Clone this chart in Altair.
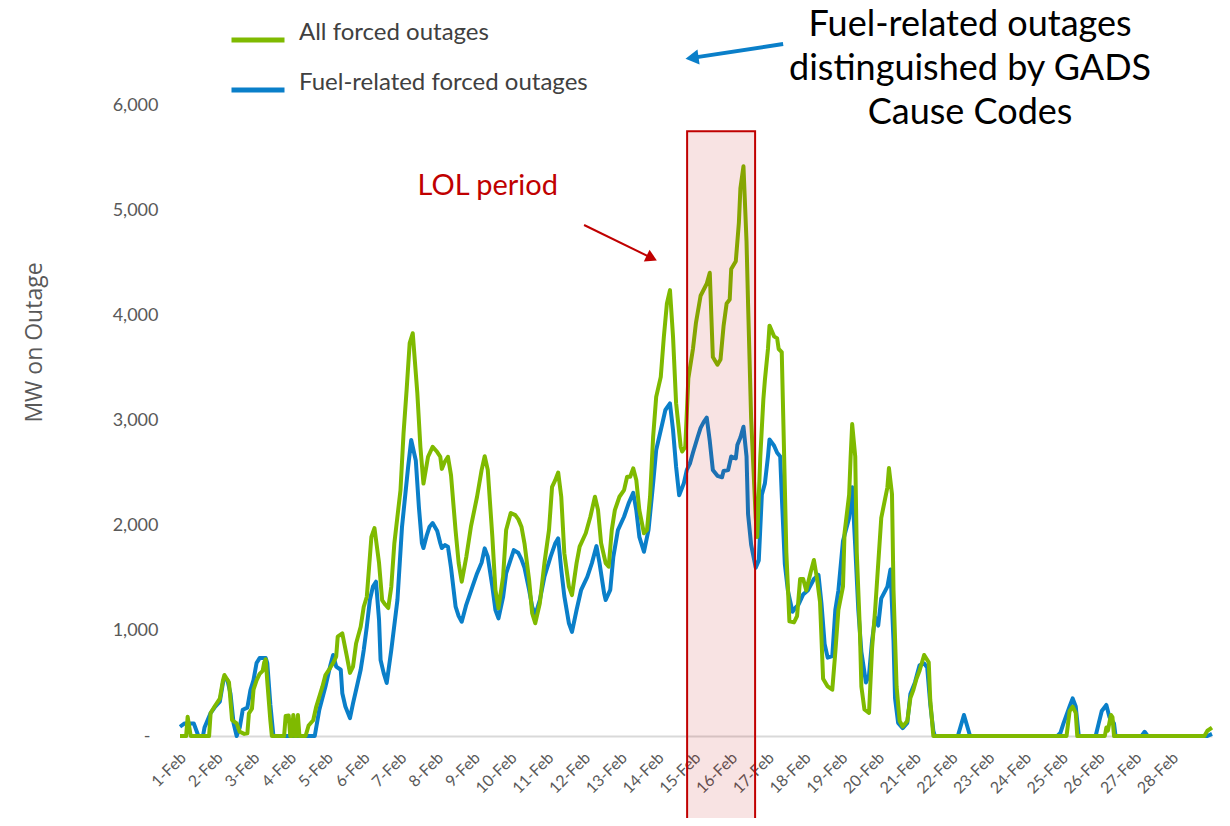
import json
import altair as alt
import pandas as pd

# ---------------- data (hours from 1-Feb 00:00, MW on outage) ----------------
all_hours = [0, 4, 5, 7, 19, 20, 23, 26, 28, 29, 32, 34, 37, 39, 42, 44, 45, 47, 48, 50,
             52, 54, 55, 56, 57, 59, 60, 68, 69, 71, 72, 73, 74, 75, 76, 77, 78, 82, 84, 87,
             89, 93, 95, 98, 100, 102, 103, 106, 109, 111, 113, 115, 118, 120, 122, 124, 125, 127, 130, 132,
             134, 136, 138, 140, 144, 146, 148, 150, 152, 155, 157, 159, 162, 165, 168, 170, 171, 173, 175, 177,
             180, 182, 184, 187, 190, 194, 197, 199, 201, 204, 206, 208, 211, 213, 216, 219, 221, 223, 225, 228,
             230, 232, 235, 238, 241, 243, 245, 247, 249, 251, 254, 256, 259, 261, 265, 268, 271, 273, 275, 278,
             280, 282, 284, 287, 290, 292, 294, 296, 298, 300, 303, 305, 307, 309, 311, 314, 316, 318, 320, 322,
             324, 327, 328, 330, 332, 335, 337, 340, 342, 344, 346, 347, 348, 351, 353, 355, 357, 359, 360, 363,
             365, 366, 368, 370, 371, 373, 376, 377, 379, 381, 382, 384, 385, 388, 390, 391, 393, 394, 396, 398,
             401, 403, 405, 407, 409, 412, 414, 416, 418, 420, 423, 426, 428, 430, 433, 434, 437, 438, 439, 441,
             442, 444, 445, 447, 450, 452, 454, 456, 458, 462, 463, 465, 466, 468, 470, 472, 475, 477, 479, 481,
             483, 486, 489, 490, 492, 579, 581, 583, 585, 586, 604, 605, 606, 608, 609, 610, 669, 671, 674]
all_mw = [0, 0, 183, 0, 0, 218, 290, 355, 525, 580, 510, 152, 120, 40, 20, 25, 215, 260, 440, 530,
          590, 620, 700, 730, 520, 150, 0, 0, 190, 195, 0, 0, 200, 0, 0, 200, 0, 0, 100, 150,
          280, 469, 580, 646, 694, 754, 944, 975, 754, 600, 660, 880, 1039, 1229, 1324, 1704, 1894, 1977, 1644, 1293,
          1250, 1217, 1420, 1833, 2338, 2880, 3290, 3735, 3830, 3260, 2750, 2400, 2655, 2750, 2700, 2655, 2540, 2610, 2655, 2480,
          1950, 1644, 1467, 1704, 1990, 2275, 2530, 2660, 2530, 1894, 1390, 1214, 1514, 1958, 2120, 2100, 2060, 1990, 1830, 1483,
          1167, 1072, 1262, 1644, 1960, 2370, 2430, 2505, 2275, 1738, 1420, 1340, 1644, 1800, 1928, 2085, 2275, 2150, 1835, 1644,
          1610, 1960, 2148, 2275, 2338, 2465, 2465, 2545, 2435, 2148, 1928, 1960, 2275, 2845, 3225, 3415, 3795, 4113, 4240, 3795,
          3165, 2750, 2705, 2750, 3400, 3680, 3931, 4186, 4243, 4300, 4405, 4000, 3603, 3530, 3580, 3898, 4113, 4150, 4441, 4515,
          4880, 5207, 5418, 4700, 4113, 3021, 2074, 1892, 2657, 3204, 3385, 3680, 3902, 3800, 3780, 3680, 3650, 3021, 1746, 1090,
          1080, 1140, 1493, 1493, 1383, 1564, 1673, 1500, 1274, 545, 471, 440, 800, 1200, 1420, 1928, 2293, 2657, 2966, 2657,
          1746, 1017, 471, 253, 220, 836, 1200, 1637, 2074, 2365, 2548, 2300, 1383, 471, 143, 90, 143, 360, 440, 545,
          620, 770, 700, 342, 0, 0, 237, 280, 220, 0, 0, 80, 50, 200, 180, 0, 0, 50, 80]

fuel_hours = [0, 3, 9, 12, 15, 16, 20, 23, 26, 28, 29, 31, 33, 35, 37, 39, 41, 44, 46, 48,
              50, 52, 56, 57, 59, 61, 88, 91, 95, 98, 100, 102, 105, 106, 108, 111, 113, 115, 118, 120,
              122, 124, 126, 128, 130, 131, 133, 135, 138, 142, 145, 147, 149, 151, 154, 156, 158, 159, 161, 163,
              165, 168, 170, 171, 173, 175, 177, 180, 182, 184, 187, 191, 194, 197, 199, 201, 204, 206, 208, 211,
              213, 216, 218, 221, 223, 225, 228, 230, 232, 235, 238, 242, 245, 247, 249, 251, 254, 256, 259, 262,
              266, 269, 272, 274, 277, 278, 281, 283, 286, 290, 293, 296, 298, 300, 303, 306, 309, 311, 315, 317,
              320, 322, 324, 326, 329, 331, 333, 335, 338, 340, 342, 344, 346, 348, 351, 354, 355, 358, 360, 363,
              364, 366, 368, 370, 371, 373, 376, 378, 380, 382, 384, 385, 388, 390, 392, 393, 395, 397, 400, 402,
              404, 407, 410, 414, 417, 419, 421, 423, 426, 428, 430, 433, 437, 439, 441, 443, 445, 448, 450, 452,
              454, 456, 458, 462, 464, 466, 467, 469, 472, 475, 477, 480, 483, 486, 488, 490, 492, 493, 508, 510,
              512, 514, 516, 573, 575, 577, 581, 583, 585, 587, 598, 600, 602, 605, 607, 610, 611, 628, 630, 632,
              671, 674]
fuel_mw = [88, 120, 120, 0, 0, 80, 218, 280, 327, 500, 560, 530, 400, 120, 0, 80, 250, 270, 437, 532,
           694, 741, 741, 694, 300, 0, 0, 250, 470, 660, 770, 660, 630, 407, 280, 170, 310, 437, 630, 817,
           1039, 1293, 1420, 1467, 1103, 722, 600, 504, 817, 1293, 1990, 2275, 2560, 2814, 2620, 2180, 1833, 1787, 1900, 1990,
           2025, 1950, 1833, 1787, 1815, 1800, 1600, 1230, 1140, 1087, 1250, 1420, 1546, 1650, 1784, 1704, 1420, 1198, 1119, 1320,
           1546, 1680, 1768, 1740, 1680, 1600, 1390, 1230, 1150, 1293, 1514, 1704, 1830, 1879, 1580, 1330, 1071, 990, 1198, 1390,
           1514, 1644, 1806, 1644, 1356, 1293, 1390, 1704, 1958, 2085, 2212, 2313, 2148, 1894, 1752, 1960, 2402, 2719, 2972, 3100,
           3162, 2910, 2560, 2290, 2400, 2530, 2590, 2693, 2838, 2930, 2985, 3028, 2804, 2530, 2474, 2460, 2520, 2530, 2657, 2640,
           2766, 2838, 2941, 2657, 2110, 1820, 1600, 1670, 2293, 2402, 2657, 2820, 2760, 2693, 2657, 2293, 1638, 1383, 1182, 1220,
           1250, 1347, 1383, 1493, 1531, 1250, 875, 745, 760, 1200, 1383, 1855, 2074, 2365, 1800, 1200, 800, 508, 580, 909,
           1130, 1050, 1309, 1420, 1583, 900, 360, 125, 75, 125, 400, 510, 672, 690, 650, 300, 50, 0, 0, 100,
           200, 100, 0, 0, 30, 120, 280, 358, 280, 0, 0, 120, 237, 295, 180, 120, 0, 0, 40, 0,
           0, 20]

series_names = ["All forced outages", "Fuel-related forced outages"]
series_colors = ["#7fba00", "#0a7fc9"]

day_labels = ["1-Feb", "2-Feb", "3-Feb", "4-Feb", "5-Feb", "6-Feb", "7-Feb", "8-Feb", "9-Feb",
              "10-Feb", "11-Feb", "12-Feb", "13-Feb", "14-Feb", "15-Feb", "16-Feb", "17-Feb",
              "18-Feb", "19-Feb", "20-Feb", "21-Feb", "22-Feb", "23-Feb", "24-Feb", "25-Feb",
              "26-Feb", "27-Feb", "28-Feb"]
day_ticks = [24 * i for i in range(len(day_labels))]
y_ticks = [0, 1000, 2000, 3000, 4000, 5000, 6000]

# annotation anchors, in data units (hours, MW)
lol_box = {"hour": [331.2], "hour2": [375.6], "mw": [5750], "mw2": [-900]}
lol_text = {"hour": [201.0], "mw": [5144], "label": ["LOL period"]}
red_arrow = {"hour": [263.9], "hour2": [308.1], "mw": [4859], "mw2": [4545]}
blue_arrow = {"hour": [393.9], "hour2": [334.4], "mw": [6580], "mw2": [6448]}
note_pos = {"hour": [516.0], "mw": [6656]}
note_lines = ["Fuel-related outages", "distinguished by GADS", "Cause Codes"]

# ---------------- chart ----------------
df = pd.concat([
    pd.DataFrame({"hour": all_hours, "mw": all_mw, "series": series_names[0]}),
    pd.DataFrame({"hour": fuel_hours, "mw": fuel_mw, "series": series_names[1]}),
])

FONT = "Lato"
GRAY = "#595959"

xscale = alt.Scale(domain=[0, 674], nice=False, zero=False)
yscale = alt.Scale(domain=[0, 6000], nice=False)

x_axis = alt.Axis(
    values=day_ticks,
    labelExpr="%s[round(datum.value / 24)]" % json.dumps(day_labels),
    labelAngle=-45, labelAlign="right", labelBaseline="middle",
    labelPadding=19, labelOffset=3, labelFontSize=16, labelFont=FONT, labelColor=GRAY,
    ticks=False, grid=False, domain=True, domainColor="#d9d9d9", domainWidth=2,
    labelOverlap=False, title=None,
)
y_axis = alt.Axis(
    values=y_ticks,
    labelExpr="datum.value == 0 ? '-' : format(datum.value, ',')",
    labelFontSize=18, labelFont=FONT, labelColor=GRAY,
    labelPadding={"condition": {"test": "datum.value == 0", "value": 30}, "value": 22},
    ticks=False, grid=False, domain=False,
    title="MW on Outage", titleFont="Open Sans", titleFontSize=23, titleFontWeight="normal",
    titleColor=GRAY, titleX=-146, titleY=237, titleAngle=270, titleAlign="center",
    titleBaseline="middle",
)

def X(field):
    return alt.X(field, scale=xscale, axis=x_axis, title=None)

def Y(field):
    return alt.Y(field, scale=yscale, axis=y_axis, title="MW on Outage")

color = alt.Color(
    "series:N",
    scale=alt.Scale(domain=series_names, range=series_colors),
    legend=alt.Legend(
        title=None, orient="none", legendX=49, legendY=-94, direction="vertical",
        symbolType="stroke", symbolSize=2809, symbolStrokeWidth=5,
        labelFont=FONT, labelFontSize=24, labelColor="#404040", labelOffset=12,
        labelLimit=500, labelBaseline="alphabetic", rowPadding=11, padding=0,
    ),
)

base = alt.Chart(df).encode(x=X("hour:Q"), y=Y("mw:Q"), color=color)
fuel_line = base.transform_filter(alt.datum.series == series_names[1]).mark_line(
    strokeWidth=4, strokeJoin="round")
all_line = base.transform_filter(alt.datum.series == series_names[0]).mark_line(
    strokeWidth=4, strokeJoin="round")

box = alt.Chart(pd.DataFrame(lol_box)).mark_rect(
    fill="#c00000", fillOpacity=0.11, stroke="#c00000", strokeWidth=2, clip=False
).encode(x=X("hour:Q"), x2="hour2:Q", y=Y("mw:Q"), y2="mw2:Q")

lol_label = alt.Chart(pd.DataFrame(lol_text)).mark_text(
    font=FONT, fontSize=29, color="#c00000", align="center", baseline="alphabetic"
).encode(x=X("hour:Q"), y=Y("mw:Q"), text="label:N")

red_df = pd.DataFrame(red_arrow)
red_shaft = alt.Chart(red_df).mark_rule(color="#c00000", strokeWidth=2, clip=False).encode(
    x=X("hour:Q"), x2="hour2:Q", y=Y("mw:Q"), y2="mw2:Q")
red_head = alt.Chart(red_df).mark_point(
    shape="triangle-right", filled=True, color="#c00000", opacity=1, size=170, angle=26, clip=False
).encode(x=X("hour2:Q"), y=Y("mw2:Q"))

blue_df = pd.DataFrame(blue_arrow)
blue_shaft = alt.Chart(blue_df).mark_rule(color="#0a7fc9", strokeWidth=4, clip=False).encode(
    x=X("hour:Q"), x2="hour2:Q", y=Y("mw:Q"), y2="mw2:Q")
blue_head = alt.Chart(blue_df).mark_point(
    shape="triangle-right", filled=True, color="#0a7fc9", opacity=1, size=230, angle=172, clip=False
).encode(x=X("hour2:Q"), y=Y("mw2:Q"))

note = alt.Chart(pd.DataFrame(note_pos)).mark_text(
    text=note_lines, font=FONT, fontSize=36, color="#000000", align="center",
    baseline="alphabetic", lineHeight=44,
).encode(x=X("hour:Q"), y=Y("mw:Q"))

chart = alt.layer(
    fuel_line, all_line, box, lol_label, red_shaft, red_head, blue_shaft, blue_head, note
).properties(
    width=1032, height=631,
    background="white",
    autosize=alt.AutoSizeParams(type="none"),
    padding={"left": 172, "top": 97, "right": 10, "bottom": 82},
).configure_view(strokeWidth=0, stroke="transparent")

chart.save("out.html", embed_options={"renderer": "svg", "actions": False})
